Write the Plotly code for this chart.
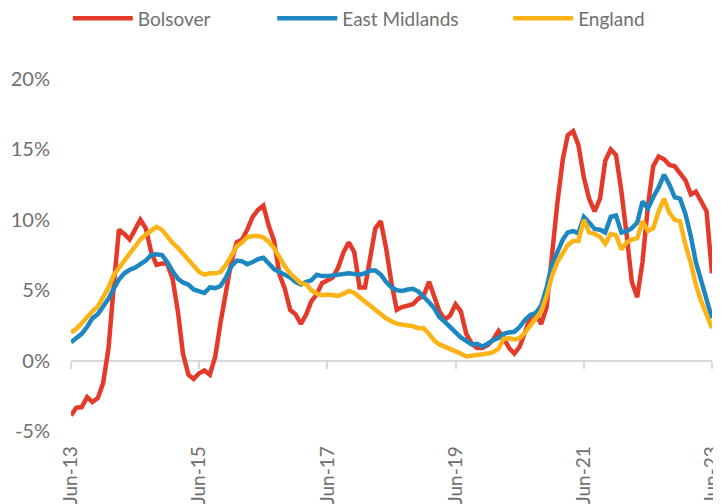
import pandas as pd
import plotly.graph_objects as go

months = pd.date_range("2013-06-01", periods=121, freq="MS")

bolsover = [
    -3.9, -3.35, -3.3, -2.6, -2.95, -2.65, -1.6, 0.9, 5.5, 9.3,
    9.0, 8.6, 9.3, 10.0, 9.4, 7.7, 6.8, 6.9, 6.9, 5.8,
    3.4, 0.5, -1.0, -1.3, -0.9, -0.7, -1.0, 0.3, 2.7, 5.0,
    7.0, 8.4, 8.6, 9.3, 10.2, 10.7, 11.0, 9.6, 8.5, 6.1,
    5.1, 3.6, 3.3, 2.6, 3.3, 4.2, 4.7, 5.5, 5.7, 5.9,
    6.6, 7.7, 8.4, 7.7, 5.2, 5.2, 7.4, 9.4, 9.9, 8.0,
    5.5, 3.6, 3.8, 3.9, 4.0, 4.4, 4.6, 5.6, 4.6, 3.5,
    2.9, 3.2, 4.0, 3.5, 1.9, 1.2, 0.9, 0.9, 1.1, 1.5,
    2.1, 1.6, 0.9, 0.5, 1.0, 2.1, 3.1, 3.3, 2.6, 3.8,
    7.5, 11.2, 14.3, 16.0, 16.3, 15.3, 13.0, 11.5, 10.6, 11.5,
    14.2, 15.0, 14.6, 12.0, 8.8, 5.6, 4.5, 7.0, 11.0, 13.8,
    14.5, 14.3, 13.9, 13.8, 13.3, 12.8, 11.8, 12.0, 11.3, 10.6,
    6.2,
]

east_midlands = [
    1.3, 1.55, 1.9, 2.4, 3.0, 3.3, 3.8, 4.4, 5.15, 5.75,
    6.2, 6.45, 6.6, 6.85, 7.1, 7.5, 7.55, 7.5, 7.0, 6.35,
    5.8, 5.55, 5.4, 5.05, 4.9, 4.8, 5.2, 5.15, 5.3, 5.9,
    6.7, 7.1, 7.05, 6.85, 7.0, 7.2, 7.3, 6.95, 6.5, 6.3,
    6.1, 5.9, 5.6, 5.4, 5.6, 5.7, 6.1, 6.0, 6.0, 6.05,
    6.15, 6.2, 6.2, 6.15, 6.1, 6.2, 6.4, 6.4, 6.1, 5.6,
    5.2, 5.0, 4.95, 5.05, 5.1, 4.9, 4.55, 4.15, 3.7, 3.1,
    2.75, 2.4, 2.0, 1.65, 1.4, 1.15, 1.2, 1.0, 1.2, 1.45,
    1.6, 1.9, 2.0, 2.05, 2.4, 2.9, 3.25, 3.4, 3.9, 5.2,
    6.8, 7.8, 8.6, 9.1, 9.2, 9.05, 10.2, 9.8, 9.35, 9.3,
    9.1, 10.2, 10.3, 9.1, 9.2, 9.4, 9.8, 11.3, 10.8, 11.6,
    12.3, 13.2, 12.5, 11.6, 11.5, 10.4, 8.8, 7.0, 5.6, 4.3,
    3.0,
]

england = [
    2.0, 2.25, 2.65, 3.1, 3.5, 3.85, 4.5, 5.2, 6.1, 6.6,
    7.1, 7.6, 8.1, 8.6, 8.95, 9.25, 9.5, 9.3, 8.8, 8.35,
    8.0, 7.6, 7.25, 6.8, 6.3, 6.1, 6.2, 6.2, 6.3, 6.8,
    7.5, 8.1, 8.4, 8.75, 8.85, 8.85, 8.75, 8.45, 8.0, 7.3,
    6.7, 6.2, 5.85, 5.5, 5.4, 5.0, 4.75, 4.65, 4.7, 4.65,
    4.6, 4.75, 4.95, 4.8, 4.5, 4.2, 3.9, 3.55, 3.3, 3.0,
    2.8, 2.62, 2.55, 2.5, 2.45, 2.3, 2.3, 1.9, 1.4, 1.15,
    1.0, 0.85, 0.7, 0.5, 0.3, 0.33, 0.4, 0.45, 0.5, 0.6,
    0.85, 1.55, 1.58, 1.5, 1.6, 2.0, 2.5, 2.9, 3.5, 4.6,
    6.0, 7.0, 7.7, 8.2, 8.5, 8.5, 10.0, 9.1, 9.0, 8.8,
    8.3, 9.0, 8.9, 7.9, 8.4, 8.6, 8.7, 9.9, 9.2, 9.4,
    10.6, 11.5, 10.5, 10.0, 9.9, 8.2, 6.9, 5.4, 4.2, 3.3,
    2.3,
]

x_tick_vals = pd.to_datetime(["2013-06-01", "2015-06-01", "2017-06-01",
                              "2019-06-01", "2021-06-01", "2023-06-01"])
x_tick_text = ["Jun-13", "Jun-15", "Jun-17", "Jun-19", "Jun-21", "Jun-23"]
y_tick_vals = [-5, 0, 5, 10, 15, 20]
y_tick_text = ["-5%", "0%", "5%", "10%", "15%", "20%"]

series_names = ["Bolsover", "East Midlands", "England"]
series_values = [bolsover, east_midlands, england]
series_colors = ["#E5392A", "#1C87C0", "#FBB316"]
legend_ids = ["legend", "legend2", "legend3"]

FONT = "Lato"
TEXT_COLOR = "#707070"

fig = go.Figure()
for name, vals, color, leg in zip(series_names, series_values, series_colors, legend_ids):
    fig.add_trace(go.Scatter(
        x=months, y=vals, mode="lines", name=name,
        line=dict(color=color, width=4.5),
        legend=leg,
    ))

legend_common = dict(orientation="h", xanchor="left", yanchor="middle", y=1.172,
                     bgcolor="rgba(0,0,0,0)", itemwidth=60,
                     font=dict(family=FONT, size=19, color=TEXT_COLOR))

# page body has an 8px default margin, so the figure is 8px smaller
fig.update_layout(
    width=713, height=496,
    margin=dict(l=63, r=9, t=71, b=73, autoexpand=False),
    plot_bgcolor="white", paper_bgcolor="white",
    font=dict(family=FONT, size=19, color=TEXT_COLOR),
    legend=dict(x=-0.005, **legend_common),
    legend2=dict(x=0.314, **legend_common),
    legend3=dict(x=0.682, **legend_common),
    showlegend=True,
)
fig.update_xaxes(
    type="date",
    range=[months[0], months[-1]],
    tickmode="array", tickvals=x_tick_vals, ticktext=x_tick_text,
    tickangle=-90,
    showgrid=False, zeroline=False,
    showline=True, linecolor="#D9D9D9", linewidth=2,
    ticks="outside", ticklen=7, tickwidth=2, tickcolor="#D9D9D9",
    anchor="free", position=0.2,
    ticklabelstandoff=70,
    ticklabeloverflow="allow",
    layer="below traces",
    tickfont=dict(family=FONT, size=19, color=TEXT_COLOR),
)
fig.update_yaxes(
    range=[-5, 20],
    tickmode="array", tickvals=y_tick_vals, ticktext=y_tick_text,
    showgrid=False, zeroline=False, showline=False, ticks="",
    ticklabelstandoff=20,
    tickfont=dict(family=FONT, size=20, color=TEXT_COLOR),
)

fig.write_html("out.html")
